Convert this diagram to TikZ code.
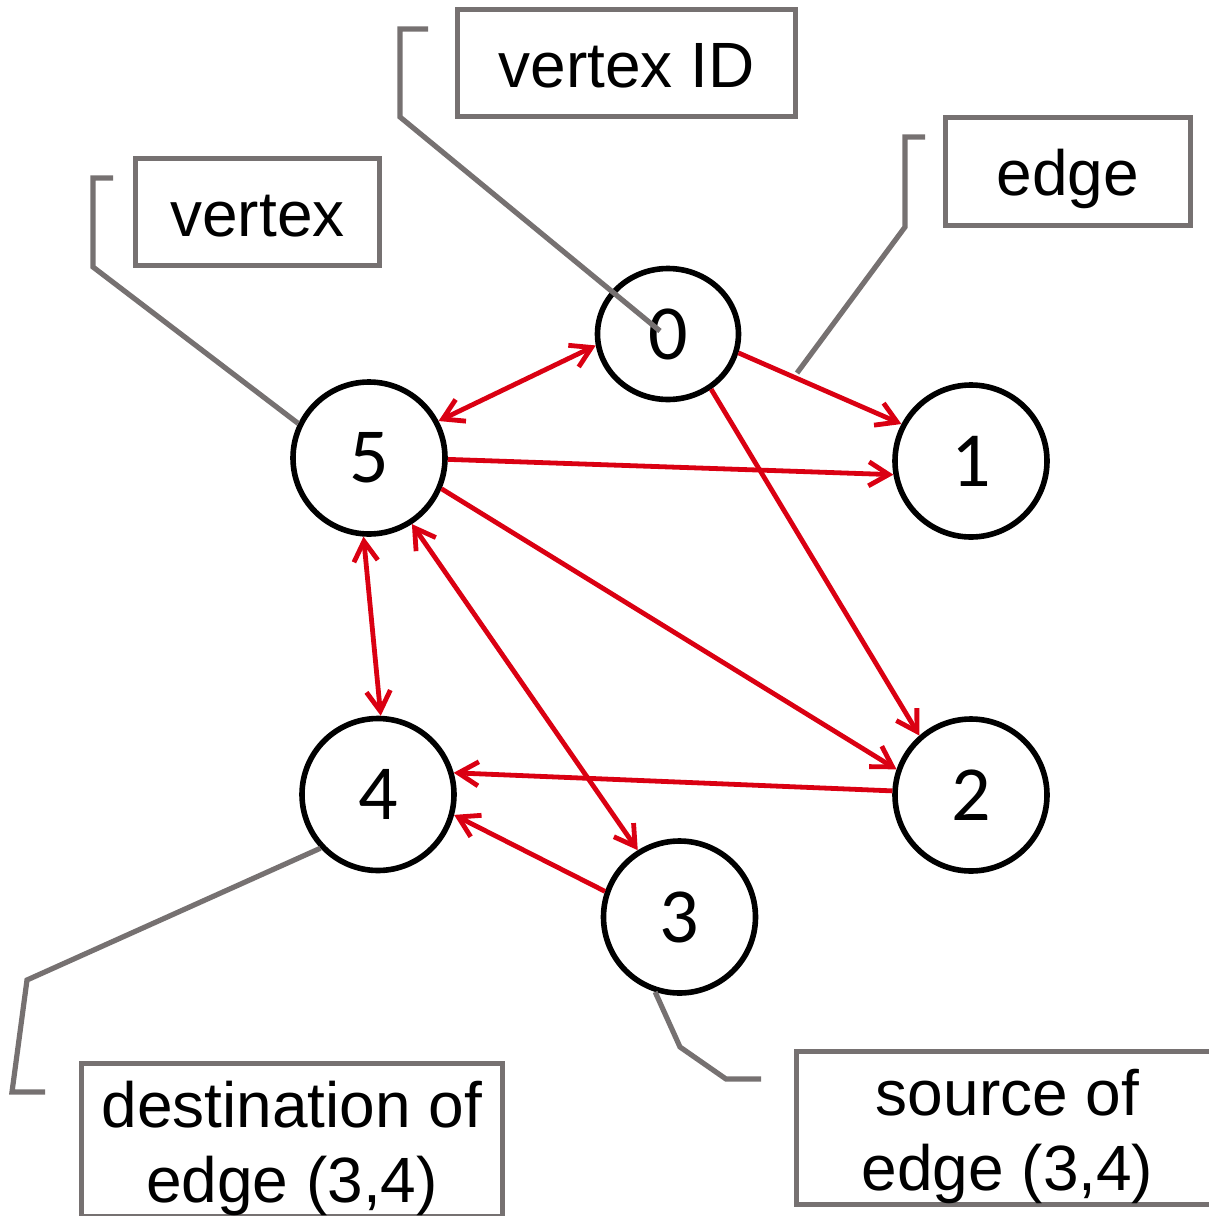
\documentclass[tikz,border=0pt]{standalone}
\usepackage{fontspec}
\setmainfont{Liberation Sans}
\newfontfamily\digitfont{Carlito}
\usetikzlibrary{arrows.meta,shapes.geometric}
\definecolor{edgered}{RGB}{218,0,18}
\definecolor{callgray}{RGB}{118,113,113}
\begin{document}
\begin{tikzpicture}[x=0.5pt,y=-0.5pt,
  vert/.style={ellipse, draw=black, line width=2.8pt, minimum width=76pt,
    minimum height=76pt, inner sep=0pt, font=\digitfont\fontsize{39}{42}\selectfont},
  barb/.tip={Straight Barb[length=10pt,width=12pt]},
  rel/.style={draw=edgered, line width=2.4pt, -barb},
  both/.style={rel, barb-barb},
  tag/.style={draw=callgray, line width=2.6pt, rectangle, inner sep=0pt,
    align=center, font=\fontsize{32}{37.5}\selectfont},
  oneline/.style={text height=24pt, text depth=0pt},
  lead/.style={draw=callgray, line width=2.6pt}
]
\useasboundingbox (0,0) rectangle (1209,1216);
\clip (0,0) rectangle (1209,1216);

% vertices
\node[vert, minimum width=70.5pt, minimum height=65.5pt] (n0) at (668,334) {0};
\node[vert] (n1) at (971,461) {1};
\node[vert] (n2) at (971,795) {2};
\node[vert] (n3) at (679.5,917) {3};
\node[vert] (n4) at (378,794.5) {4};
\node[vert] (n5) at (369,458) {5};

% directed edges
\draw[rel]  (n0.-15)  -- (n1.152);
\draw[rel]  (n5.-1.5) -- (n1.190);
\draw[rel]  (n0.-52)  -- (n2.131);
\draw[both] (n5.28)   -- (n0.189);
\draw[rel]  (n5.-23)  -- (n2.161);
\draw[rel]  (n2.177)  -- (n4.16);
\draw[both] (n5.266)  -- (n4.88.5);
\draw[both] (n5.-57)  -- (n3.122);
\draw[rel]  (n3.161)  -- (n4.-15.6);

% callout boxes
\node[tag, oneline, minimum width=169pt, minimum height=53.5pt] (tid) at (626.5,63) {vertex ID};
\node[tag, oneline, minimum width=122.5pt, minimum height=54pt] (tedge) at (1068,171.5) {edge};
\node[tag, oneline, minimum width=122pt, minimum height=53.5pt] (tvert) at (257.5,212) {vertex};
\node[tag, minimum width=210.5pt, minimum height=76.5pt] (tdst) at (292,1140)
  {\rule{0pt}{32pt}destination of\\edge (3,4)};
\node[tag, minimum width=211pt, minimum height=76.5pt] (tsrc) at (1007.5,1128)
  {\rule{0pt}{32pt}source of\\edge (3,4)};

% callout leaders
\coordinate (kid) at (428,29);
\coordinate (pid) at (660,331);
\draw[lead] (kid) -- ++(-28,0) -- ++(0,88) -- (pid);

\coordinate (kedge) at (925,137);
\coordinate (pedge) at (797,373);
\draw[lead] (kedge) -- ++(-20,0) -- ++(0,90) -- (pedge);

\coordinate (kvert) at (113,178);
\draw[lead] (kvert) -- ++(-20,0) -- ++(0,89) -- (n5.154);

\coordinate (kdst) at (45,1092);
\draw[lead] (n4.223) -- (27,980) -- (12,1092) -- (kdst);

\coordinate (ksrc) at (761,1079);
\draw[lead] (n3.252) -- (680,1047) -- (726,1079) -- (ksrc);
\end{tikzpicture}
\end{document}
